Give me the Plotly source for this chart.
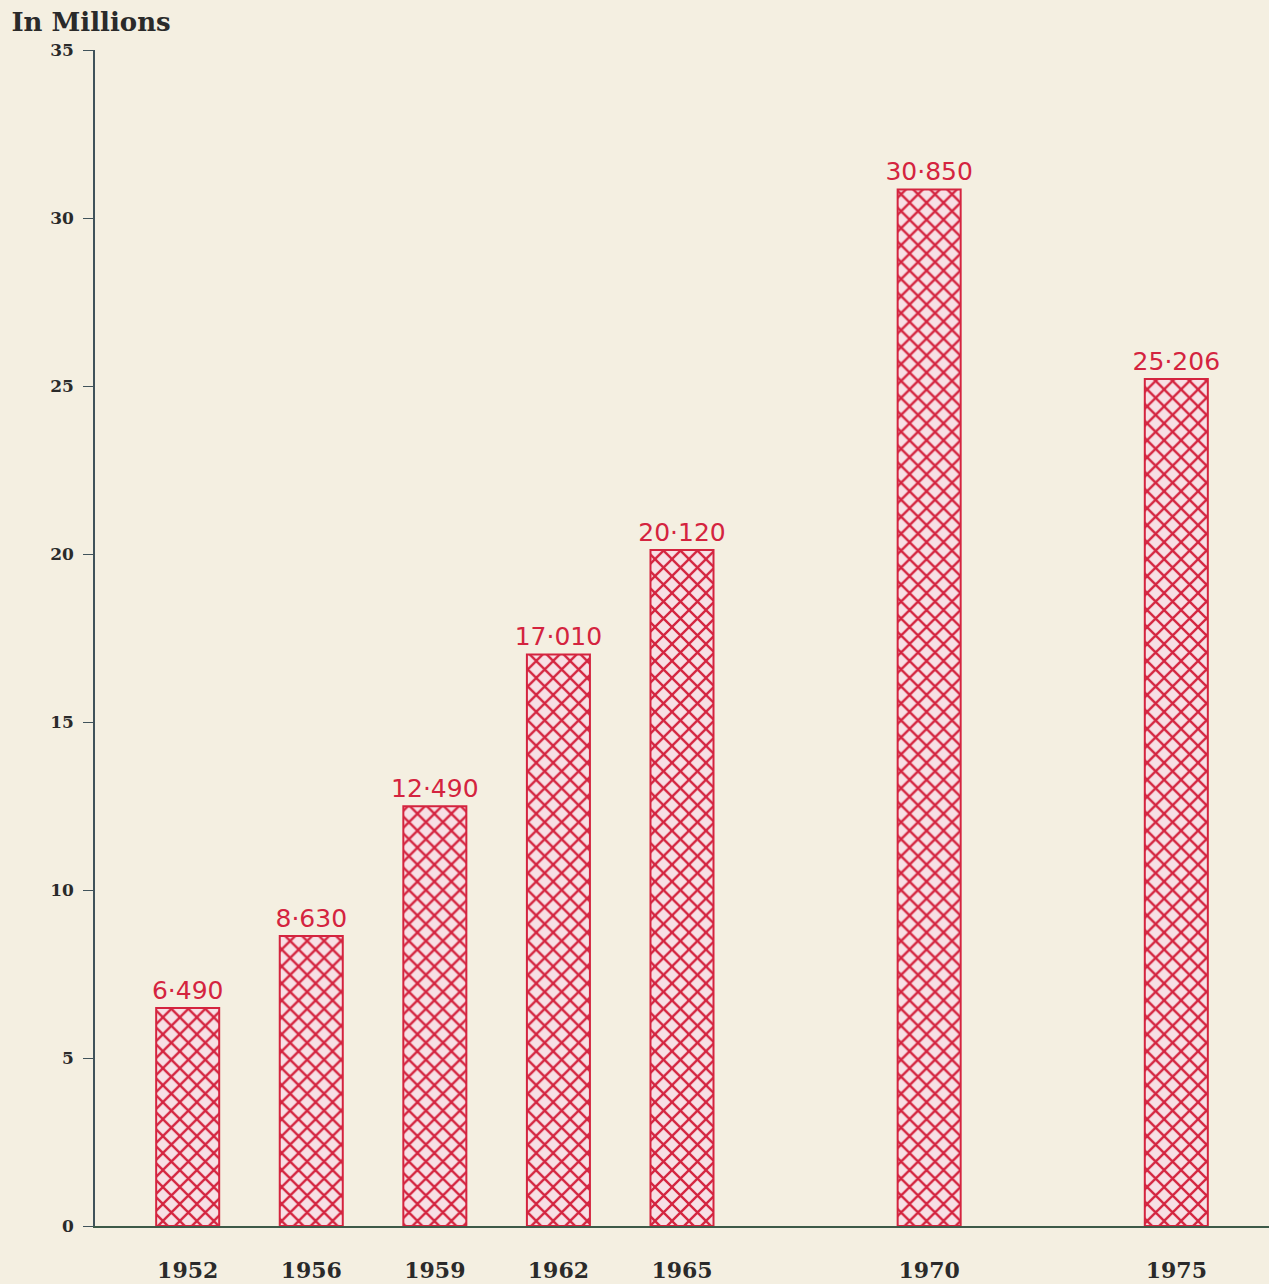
import plotly.graph_objects as go

# values in millions
years = ["1952", "1956", "1959", "1962", "1965", "1970", "1975"]
values = [6.490, 8.630, 12.490, 17.010, 20.120, 30.850, 25.206]
# axis slots: blank gaps between 1965, 1970 and 1975
slots = ["1952", "1956", "1959", "1962", "1965", " ", "1970", "  ", "1975"]
y_ticks = [0, 5, 10, 15, 20, 25, 30, 35]

BG = "#f4efe1"
RED = "#d4243f"

labels = [f"{v:.3f}".replace(".", "·") for v in values]

fig = go.Figure()
fig.add_bar(
    x=years,
    y=values,
    text=labels,
    textposition="outside",
    constraintext="none",
    cliponaxis=False,
    textfont=dict(family="DejaVu Sans", size=25, color=RED),
    width=0.51,
    marker=dict(
        color="#f6dde3",
        line=dict(color=RED, width=2),
        pattern=dict(
            shape="x",
            size=12,
            solidity=0.35,
            fgcolor=RED,
            bgcolor="#f7e0e5",
            fillmode="replace",
        ),
    ),
    showlegend=False,
)

fig.update_layout(
    width=1269,
    height=1284,
    paper_bgcolor=BG,
    plot_bgcolor=BG,
    margin=dict(l=95, r=0, t=50, b=58),
    title=dict(
        text="In Millions",
        x=0.009,
        xanchor="left",
        xref="container",
        y=1 - 22 / 1284,
        yanchor="middle",
        yref="container",
        font=dict(family="DejaVu Serif", size=26, color="#2a2a2a", weight="bold"),
    ),
    xaxis=dict(
        type="category",
        categoryorder="array",
        categoryarray=slots,
        range=[-0.75, 8.75],
        showgrid=False,
        showline=True,
        linecolor="#3d5a48",
        linewidth=2,
        ticks="",
        ticklabelstandoff=24,
        tickfont=dict(family="DejaVu Serif", size=22, color="#2a2a2a", weight="bold"),
    ),
    yaxis=dict(
        range=[0, 35],
        tickvals=y_ticks,
        showgrid=False,
        zeroline=False,
        showline=True,
        linecolor="#40525a",
        linewidth=1.5,
        ticks="outside",
        ticklen=10,
        tickcolor="#40525a",
        ticklabelstandoff=6,
        tickfont=dict(family="DejaVu Serif", size=17, color="#2a2a2a", weight="bold"),
    ),
)

fig.write_html(
    "out.html",
    config={"displayModeBar": False},
    post_script="document.body.style.margin='0';document.body.style.overflow='hidden';",
)
